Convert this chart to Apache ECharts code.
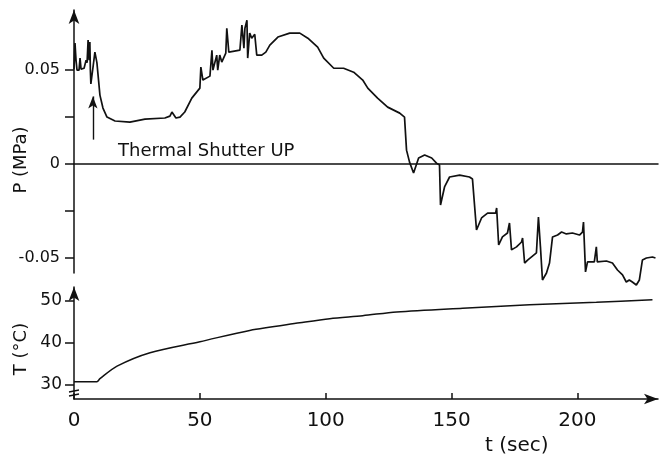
<!DOCTYPE html>
<html>
<head>
<meta charset="utf-8">
<script src="https://cdn.jsdelivr.net/npm/echarts@6/dist/echarts.min.js"></script>
<style>
  html, body { margin: 0; padding: 0; background: #fff; }
  #main { width: 661px; height: 464px; }
</style>
</head>
<body>
<div id="main"></div>
<script>
// pressure trace P(MPa) vs t(sec)
let pTime = [0, 0.4, 0.8, 1.2, 2.0, 2.4, 2.8, 4.0, 4.8, 5.2, 5.6, 6.0, 6.3, 6.5, 6.7, 7.5, 8.3, 9.1,
  10.3, 11.5, 13.1, 16.3, 22.2, 28.2, 36.1, 38.1, 38.9, 40.5, 42.1, 44.0, 46.8, 50.0, 50.4, 51.2,
  54.0, 54.8, 55.2, 56.7, 57.1, 57.9, 58.7, 60.3, 60.7, 61.5, 65.9, 66.7, 67.5, 67.9, 68.7, 69.0,
  69.8, 70.6, 71.8, 72.6, 74.6, 76.2, 77.8, 81.0, 85.7, 89.7, 92.9, 96.8, 99.2, 103.2, 107.1, 111.1,
  114.7, 116.7, 120.6, 124.6, 129.4, 131.3, 132.1, 133.3, 134.9, 136.9, 139.3, 142.1, 144.0, 145.2, 145.6,
  147.2, 149.2, 153.2, 157.1, 158.3, 159.9, 161.9, 164.3, 167.5, 167.9, 168.7, 170.2, 172.2, 173.0,
  173.8, 175.8, 177.8, 178.2, 179.0, 180.2, 183.7, 184.5, 185.3, 186.1, 187.7, 188.9, 190.1, 192.1,
  193.7, 195.6, 198.0, 200.8, 202.0, 202.4, 203.2, 204.0, 206.7, 207.5, 207.9, 211.5, 213.9, 215.9,
  217.9, 219.4, 220.6, 221.8, 223.4, 224.6, 225.8, 227.4, 229.8, 231.0];
let pValue = [0.0505, 0.0644, 0.0553, 0.050, 0.050, 0.0564, 0.0505, 0.051, 0.0553, 0.054, 0.066, 0.0553,
  0.065, 0.050, 0.0426, 0.051, 0.0596, 0.054, 0.0367, 0.0298, 0.025, 0.0229, 0.0223, 0.0239, 0.0245,
  0.0255, 0.0277, 0.0245, 0.025, 0.0277, 0.0351, 0.0404, 0.0516, 0.0447, 0.0468, 0.0606, 0.050, 0.058,
  0.050, 0.058, 0.0543, 0.059, 0.0723, 0.0596, 0.0606, 0.074, 0.0617, 0.0723, 0.0766, 0.0564, 0.0697,
  0.067, 0.0691, 0.058, 0.058, 0.0596, 0.0633, 0.0676, 0.0697, 0.0697, 0.0670, 0.0622, 0.0564, 0.0510,
  0.0510, 0.0489, 0.0447, 0.0404, 0.0351, 0.0303, 0.0271, 0.025, 0.0074, 0.001, -0.0048, 0.0032, 0.0048, 0.0032,
  0.0005, -0.0005, -0.0218, -0.0122, -0.0069, -0.0059, -0.0069, -0.008, -0.0351, -0.0287, -0.0261,
  -0.0261, -0.0234, -0.0431, -0.0388, -0.0367, -0.0314, -0.0457, -0.0441, -0.0415, -0.0394, -0.0527,
  -0.0511, -0.0473, -0.0282, -0.0441, -0.0617, -0.058, -0.0527, -0.0388, -0.0378, -0.0362, -0.0372,
  -0.0367, -0.0378, -0.0362, -0.0309, -0.0574, -0.0521, -0.0521, -0.0441, -0.0521, -0.0516, -0.0527,
  -0.0564, -0.059, -0.0628, -0.0617, -0.0628, -0.0644, -0.0617, -0.0511, -0.050, -0.0495, -0.050];

// temperature trace T(°C) vs t(sec)
let tTime = [0, 9.1, 10.3, 17.1, 30.2, 50.0, 69.8, 89.7, 101.6, 114.7, 128.2, 154.4, 181.0, 207.5, 229.8];
let tValue = [30.8, 30.8, 31.5, 34.5, 37.7, 40.3, 43.0, 44.8, 45.8, 46.5, 47.4, 48.3, 49.1, 49.7, 50.3];

let xTicks = [0, 50, 100, 150, 200];
let pTicks = [0.05, 0.025, 0, -0.025, -0.05];
let pLabels = [0.05, 0, -0.05];
let tTicks = [30, 40, 50];

// shutter arrow (t, P from -> to)
let shutterT = 7.5;
let shutterFrom = 0.013;
let shutterTo = 0.036;

let font = 'DejaVu Sans';
let ink = '#111';

let chart = echarts.init(document.getElementById('main'));

function zip(xs, ys) {
  let out = [];
  for (let i = 0; i < xs.length; i++) out.push([xs[i], ys[i]]);
  return out;
}

let option = {
  animation: false,
  backgroundColor: '#fff',
  grid: [
    { left: 74, width: 584, top: 10, height: 263 },
    { left: 74, width: 584, top: 287, height: 112 }
  ],
  xAxis: [
    {
      type: 'value', gridIndex: 0, min: 0, max: 232,
      axisLine: { show: true, onZero: true, lineStyle: { color: ink, width: 1.5 } },
      axisTick: { show: false }, axisLabel: { show: false }, splitLine: { show: false }
    },
    {
      type: 'value', gridIndex: 1, min: 0, max: 232,
      axisLine: { show: true, onZero: false, symbol: ['none', 'arrow'], symbolSize: [8, 14],
        lineStyle: { color: ink, width: 1.5 } },
      axisTick: { show: true, inside: true, length: 6, customValues: xTicks, lineStyle: { color: ink, width: 1.5 } },
      axisLabel: { customValues: xTicks, color: ink, fontFamily: font, fontSize: 20, margin: 12 },
      splitLine: { show: false }
    }
  ],
  yAxis: [
    {
      type: 'value', gridIndex: 0, min: -0.058, max: 0.082,
      axisLine: { show: true, onZero: false, symbol: ['none', 'arrow'], symbolSize: [8, 14],
        lineStyle: { color: ink, width: 1.5 } },
      axisTick: { show: true, length: 9, customValues: pTicks, lineStyle: { color: ink, width: 1.5 } },
      axisLabel: {
        customValues: pLabels, color: ink, fontFamily: font, fontSize: 16, margin: 14,
        formatter: function (v) { return v === 0 ? '0' : (v < 0 ? '-' : '') + Math.abs(v).toFixed(2); }
      },
      splitLine: { show: false }
    },
    {
      type: 'value', gridIndex: 1, min: 26.67, max: 53.33,
      axisLine: { show: true, onZero: false, symbol: ['none', 'arrow'], symbolSize: [8, 14],
        lineStyle: { color: ink, width: 1.5 } },
      axisTick: { show: true, length: 9, customValues: tTicks, lineStyle: { color: ink, width: 1.5 } },
      axisLabel: { customValues: tTicks, color: ink, fontFamily: font, fontSize: 17, margin: 12 },
      splitLine: { show: false }
    }
  ],
  graphic: [
    { type: 'text', left: 118, top: 142, style: { text: 'Thermal Shutter UP', font: '18px "DejaVu Sans"', fill: ink } },
    { type: 'text', x: 21, y: 160, rotation: Math.PI / 2,
      style: { text: 'P (MPa)', font: '18px "DejaVu Sans"', fill: ink, align: 'center', verticalAlign: 'middle' } },
    { type: 'text', x: 21, y: 349, rotation: Math.PI / 2,
      style: { text: 'T (°C)', font: '18px "DejaVu Sans"', fill: ink, align: 'center', verticalAlign: 'middle' } },
    { type: 'text', left: 485, top: 436, style: { text: 't (sec)', font: '20px "DejaVu Sans"', fill: ink } },
    { type: 'polyline', shape: { points: [[69, 392], [79, 390]] }, style: { stroke: ink, lineWidth: 1.3 } },
    { type: 'polyline', shape: { points: [[69, 396], [79, 394]] }, style: { stroke: ink, lineWidth: 1.3 } }
  ],
  series: [
    {
      name: 'P', type: 'line', xAxisIndex: 0, yAxisIndex: 0,
      data: zip(pTime, pValue), showSymbol: false, clip: false,
      lineStyle: { color: ink, width: 1.7 },
      markLine: {
        silent: true, symbol: ['none', 'arrow'], symbolSize: [7, 12],
        lineStyle: { color: ink, width: 1.4, type: 'solid' }, label: { show: false },
        data: [[{ coord: [shutterT, shutterFrom] }, { coord: [shutterT, shutterTo] }]]
      }
    },
    {
      name: 'T', type: 'line', xAxisIndex: 1, yAxisIndex: 1,
      data: zip(tTime, tValue), showSymbol: false, smooth: 0.3,
      lineStyle: { color: ink, width: 1.5 }
    }
  ]
};

chart.setOption(option);
</script>
</body>
</html>
